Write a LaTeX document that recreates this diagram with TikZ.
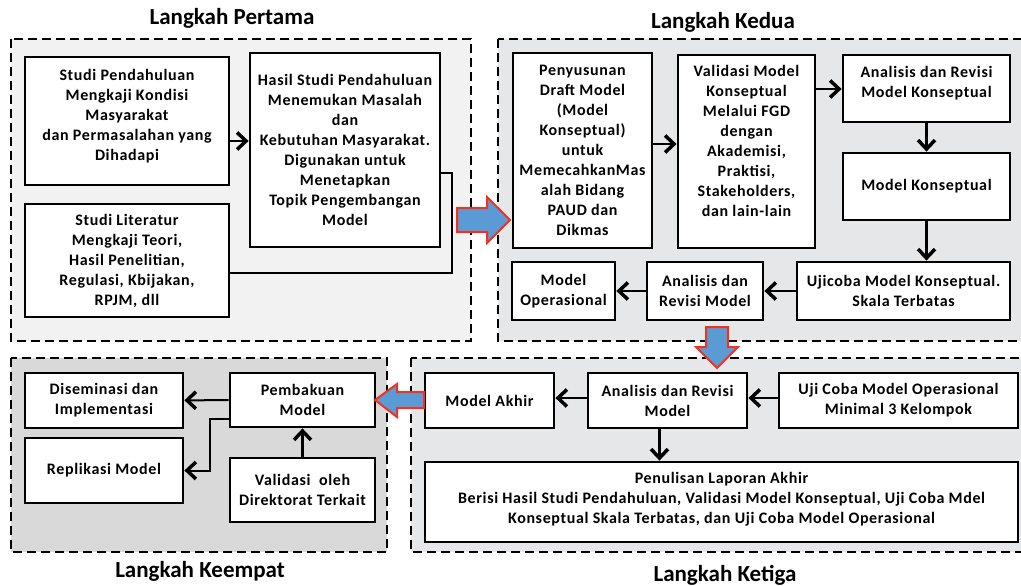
\documentclass[tikz,border=0pt]{standalone}
\usepackage{fontspec}
\setmainfont{Carlito}
\newfontfamily\boxfont[LetterSpace=4]{Carlito}
\usetikzlibrary{arrows.meta}
\definecolor{pone}{HTML}{F2F2F2}
\definecolor{ptwo}{HTML}{E6E7E9}
\definecolor{pfour}{HTML}{D9D9D9}
\definecolor{arrowblue}{HTML}{5B9BD5}
\definecolor{arrowred}{HTML}{F2321E}
\begin{document}
\begin{tikzpicture}[x=1pt,y=-1pt,
  panel/.style={line width=2.5pt,dash pattern=on 9pt off 5pt},
  box/.style={draw,line width=2.8pt,fill=white,align=center,inner sep=1pt,
    font=\boxfont\bfseries\fontsize{16}{20}\selectfont},
  title/.style={font=\bfseries\fontsize{23}{26}\selectfont},
  arr/.style={line width=2.5pt,-{Straight Barb[length=9pt,width=17pt,line width=3.5pt]}},
  link/.style={line width=1.6pt},
  bigarrow/.style={draw=arrowred,line width=2pt,fill=arrowblue,line join=miter}]
\path[use as bounding box,clip] (0,0) rectangle (1021,586);
\fill[white] (0,0) rectangle (1021,586);
% panels
\draw[panel,fill=pone] (11,39) rectangle (471,341);
\draw[panel,fill=ptwo] (498,39) rectangle (1032,341);
\draw[panel,fill=ptwo] (411,358) rectangle (1032,552);
\draw[panel,fill=pfour] (11,358) rectangle (387,552);
\node[title] (t1) at (232,18) {Langkah Pertama};
\node[title] (t2) at (723,22) {Langkah Kedua};
\node[title] (t3) at (725,575) {Langkah Ketiga};
\node[title] (t4) at (200,571) {Langkah Keempat};
% langkah pertama
\node[box,minimum width=204,minimum height=128] (a1) at (127,121)
  {Studi Pendahuluan\\Mengkaji Kondisi\\Masyarakat\\dan Permasalahan yang\\Dihadapi\\[-8pt]};
\node[box,minimum width=204,minimum height=113] (a2) at (127,260.5)
  {Studi Literatur\\Mengkaji Teori,\\Hasil Penelitian,\\Regulasi, Kbijakan,\\RPJM, dll};
\node[box,minimum width=190,minimum height=194] (a3) at (345,150)
  {Hasil Studi Pendahuluan\\Menemukan Masalah\\dan\\Kebutuhan Masyarakat.\\Digunakan untuk\\Menetapkan\\Topik Pengembangan\\Model};
\coordinate (jog) at (452,173);
\draw[arr] (a1.east |- 0,141) -- (a3.west |- 0,141);
\draw[link] (a2.east |- 0,273) -| (jog) -- (jog -| a3.east);
% langkah kedua
\node[box,minimum width=139,minimum height=195] (b1) at (582.5,150.5)
  {Penyusunan\\Draft Model\\(Model\\Konseptual)\\untuk\\MemecahkanMas\\alah Bidang\\PAUD dan\\Dikmas};
\node[box,minimum width=137,minimum height=193] (b2) at (746.5,151.5)
  {Validasi Model\\Konseptual\\Melalui FGD\\dengan\\Akademisi,\\Praktisi,\\Stakeholders,\\dan lain-lain\\[1pt]};
\node[box,minimum width=167,minimum height=67] (b3) at (926.5,88.5)
  {Analisis dan Revisi\\Model Konseptual\\[-6pt]};
\node[box,minimum width=167,minimum height=67] (b4) at (926.5,186.5) {Model Konseptual};
\node[box,minimum width=213,minimum height=58] (b5) at (903.5,291)
  {Ujicoba Model Konseptual.\\Skala Terbatas};
\node[box,minimum width=116,minimum height=58] (b6) at (705,291) {Analisis dan\\Revisi Model};
\node[box,minimum width=103,minimum height=58] (b7) at (563.5,291) {Model\\Operasional};
\draw[arr] (b1.east |- 0,144) -- (b2.west |- 0,144);
\draw[arr] (b2.east |- 0,89) -- (b3.west |- 0,89);
\draw[arr] (b3) -- (b4);
\draw[arr] (b4.south) -- (b4.south |- b5.north);
\draw[arr] (b5) -- (b6);
\draw[arr] (b6) -- (b7);
% langkah ketiga
\node[box,minimum width=129,minimum height=55] (c1) at (489.5,400.5) {Model Akhir};
\node[box,minimum width=159,minimum height=55] (c2) at (667.5,400.5) {Analisis dan Revisi\\Model};
\node[box,minimum width=239,minimum height=55] (c3) at (898.5,400.5)
  {Uji Coba Model Operasional\\Minimal 3 Kelompok};
\node[box,minimum width=593,minimum height=80] (c4) at (721.5,502)
  {Penulisan Laporan Akhir\\Berisi Hasil Studi Pendahuluan, Validasi Model Konseptual, Uji Coba Mdel\\Konseptual Skala Terbatas, dan Uji Coba Model Operasional\\[-12pt]};
\draw[arr] (c3.west |- 0,398) -- (c2.east |- 0,398);
\draw[arr] (c2.west |- 0,398) -- (c1.east |- 0,398);
\draw[arr] ([xshift=-8pt]c2.south) -- ([xshift=-8pt]c2.south |- c4.north);
% langkah keempat
\node[box,minimum width=158,minimum height=55] (d1) at (104,400.5) {Diseminasi dan\\Implementasi};
\node[box,minimum width=158,minimum height=65] (d2) at (104,470.5) {Replikasi Model};
\node[box,minimum width=145,minimum height=54] (d3) at (302.5,400) {Pembakuan\\Model};
\node[box,minimum width=145,minimum height=64] (d4) at (302.5,490) {Validasi\ \ oleh\\Direktorat Terkait};
\coordinate (bend) at (210,419);
\draw[arr,line width=2pt] (d3) -- (d1);
\draw[arr,line width=2pt] (d3.west |- bend) -- (bend) |- (d2.east);
\draw[arr] (d4) -- (d3);
% block arrows
\draw[bigarrow] (457,208) -- (487,208) -- (487,197) -- (510,220) -- (487,243) -- (487,232) -- (457,232) -- cycle;
\draw[bigarrow] (706,327) -- (728,327) -- (728,347) -- (738,347) -- (717,368) -- (696,347) -- (706,347) -- cycle;
\draw[bigarrow] (424,392) -- (397,392) -- (397,384) -- (375,400) -- (397,417) -- (397,408) -- (424,408) -- cycle;
\end{tikzpicture}
\end{document}
